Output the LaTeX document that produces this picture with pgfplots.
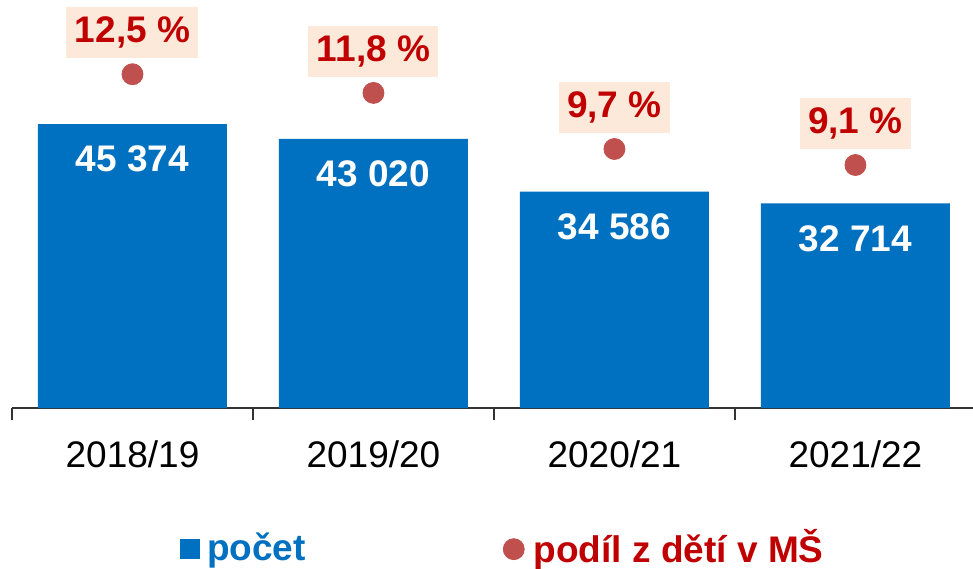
\documentclass[border=0pt]{standalone}
\usepackage{fontspec}
\setmainfont{Liberation Sans}
\usepackage{pgfplots}
\pgfplotsset{compat=1.18}
\usetikzlibrary{calc}
\definecolor{barblue}{RGB}{0,112,192}
\definecolor{dotred}{RGB}{192,80,77}
\definecolor{txtred}{RGB}{192,0,0}
\definecolor{boxfill}{RGB}{253,233,217}
\begin{document}
\fontsize{18.5}{22}\selectfont
\begin{tikzpicture}
% bars: number of children
\begin{axis}[
  width=480.5pt, height=204pt, scale only axis,
  xmin=-0.5, xmax=3.488, ymin=0, ymax=65200,
  enlargelimits=false, clip=false,
  axis x line*=bottom, hide y axis,
  xtick={0,1,2,3},
  xticklabels={2018/19,2019/20,2020/21,2021/22},
  minor xtick={-0.5,0.5,1.5,2.5,3.5},
  major tick length=0pt, minor tick length=6pt, tick align=outside,
  x axis line style={black!80, line width=1pt, -},
  every tick/.style={black!80, line width=1pt},
  xticklabel style={anchor=north, inner sep=0pt, text height=13.25pt, text depth=0pt, yshift=-16.5pt},
  /pgf/number format/assume math mode=true,
  /pgf/number format/1000 sep={\ },
  ybar, bar width=94.5pt,
  nodes near coords,
  every node near coord/.append style={anchor=north, yshift=-10.5pt, inner sep=0pt,
    text height=13.25pt, text depth=0pt, text=white, font=\bfseries},
]
\addplot[fill=barblue, draw=none] coordinates {(0,45374) (1,43020) (2,34586) (3,32714)};
\end{axis}
% dots: share of children in kindergartens
\begin{axis}[
  width=480.5pt, height=204pt, scale only axis,
  xmin=-0.5, xmax=3.488, ymin=0, ymax=15.28,
  enlargelimits=false, clip=false, hide axis,
  legend columns=2,
  legend style={draw=none, fill=none, font=\bfseries, inner sep=0pt,
    at={(0.1748,-0.346)}, anchor=west,
    /tikz/every even column/.append style={column sep=96.5pt}},
]
\addlegendimage{legend image code/.code={\fill[barblue] (0pt,-4.75pt) rectangle (9.5pt,4.75pt);}}
\addlegendentry{\hspace{1.5pt}\textcolor{barblue}{počet}}
\addplot[only marks, mark=*, mark size=5.25pt, color=dotred,
  legend image code/.code={\fill[dotred] (5.25pt,0pt) circle (5.25pt);},
  nodes near coords={\pgfmathprintnumber[fixed, fixed zerofill, precision=1, use comma, assume math mode=true]{\pgfplotspointmeta}~\%},
  every node near coord/.append style={anchor=south, yshift=8pt, fill=boxfill, text=txtred,
    font=\bfseries, inner xsep=4.2pt, inner ysep=4.5pt, text height=13.5pt, text depth=3pt},
] coordinates {(0,12.5) (1,11.8) (2,9.7) (3,9.1)};
\addlegendentry{\hspace{2.5pt}\textcolor{txtred}{podíl z dětí v MŠ}}
\end{axis}
\pgfresetboundingbox
\path[use as bounding box] ($(current axis.south west)+(-6pt,-80pt)$) rectangle (current axis.north east);
\end{tikzpicture}
\end{document}
